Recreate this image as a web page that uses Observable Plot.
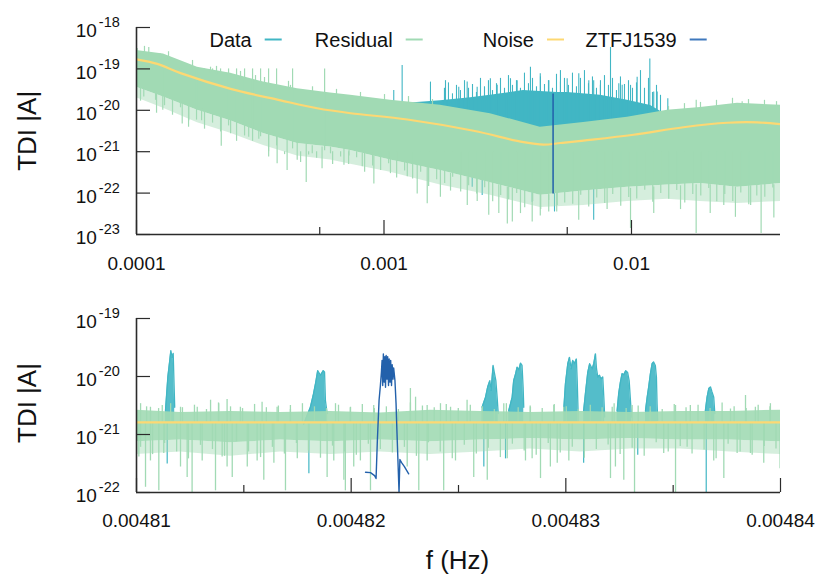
<!DOCTYPE html>
<html><head><meta charset="utf-8">
<script src="https://cdn.jsdelivr.net/npm/d3@7"></script>
<script src="https://cdn.jsdelivr.net/npm/@observablehq/plot@0.6"></script>
<style>
html,body{margin:0;padding:0;background:#fff;}
#wrap{position:relative;width:830px;height:581px;font-family:"Liberation Sans",Arial,Helvetica,sans-serif;}
#wrap > svg{display:block;}
#overlay{position:absolute;left:0;top:0;pointer-events:none;}
</style></head><body><div id="wrap"></div>
<script>
// ---------------- DATA ----------------
// Top panel: noise curve
const noiseTopF = [1.0e-4, 1.213e-4, 1.507e-4, 2.40e-4, 3.82e-4, 5.37e-4, 7.33e-4, 1.242e-3, 2.30e-3, 3.66e-3, 4.41e-3, 5.16e-3, 6.40e-3, 1.019e-2, 1.62e-2, 2.44e-2, 3.23e-2, 4.0e-2];
const noiseTopA = [1.7e-19, 1.32e-19, 7.9e-20, 3.3e-20, 1.74e-20, 1.12e-20, 8.5e-21, 6.0e-21, 3.2e-21, 1.7e-21, 1.48e-21, 1.62e-21, 1.86e-21, 2.57e-21, 3.9e-21, 5.0e-21, 5.1e-21, 4.6e-21];

// Top panel: residual band (upper edge, dense lower edge, sparse lower edge)
const resTopF      = [1.0e-4, 1.285e-4, 1.763e-4, 2.40e-4, 3.26e-4, 4.47e-4, 6.08e-4, 7.33e-4, 1.062e-3, 1.69e-3, 2.69e-3, 4.28e-3, 6.40e-3, 9.63e-3, 1.397e-2, 1.90e-2, 2.68e-2, 4.0e-2];
const resTopUpper  = [2.8e-19, 2.3e-19, 1.1e-19, 7.8e-20, 4.8e-20, 3.3e-20, 2.6e-20, 2.3e-20, 1.74e-20, 1.32e-20, 8.3e-21, 3.9e-21, 5.1e-21, 6.8e-21, 1.0e-20, 1.17e-20, 1.48e-20, 1.32e-20];
const resTopLower  = [3.6e-20, 2.1e-20, 1.0e-20, 5.6e-21, 2.75e-21, 1.58e-21, 1.29e-21, 1.07e-21, 6.3e-22, 3.5e-22, 1.78e-22, 8.9e-23, 1.12e-22, 1.38e-22, 1.58e-22, 1.7e-22, 1.38e-22, 1.7e-22];
const resTopSparse = [2.0e-20, 1.12e-20, 5.0e-21, 2.8e-21, 1.41e-21, 7.9e-22, 6.3e-22, 5.0e-22, 3.2e-22, 1.58e-22, 8.9e-23, 4.5e-23, 5.0e-23, 6.3e-23, 7.1e-23, 6.3e-23, 5.6e-23, 6.3e-23];

// Top panel: deep residual spikes (frequency, tip, root)
const resTopSpikeF  = [1.070e-4, 1.194e-4, 1.277e-4, 1.53e-4, 1.627e-4, 1.832e-4, 2.20e-4, 2.40e-4, 2.84e-4, 3.12e-4, 3.42e-4, 3.70e-4, 4.06e-4, 4.46e-4, 4.85e-4, 5.13e-4, 5.62e-4, 6.08e-4, 6.89e-4, 7.22e-4, 8.17e-4, 9.10e-4, 1.062e-3, 1.242e-3, 1.362e-3, 1.495e-3, 1.69e-3, 1.857e-3, 2.17e-3, 2.38e-3, 2.65e-3, 2.91e-3, 3.15e-3, 3.30e-3, 3.56e-3, 3.97e-3, 4.28e-3, 4.63e-3, 5.01e-3, 6.12e-3, 7.97e-3, 9.91e-3, 1.230e-2, 1.578e-2, 1.825e-2, 2.08e-2, 2.36e-2, 2.63e-2, 3.03e-2, 3.34e-2, 3.76e-2];
const resTopSpikeLo = [2.1e-20, 1.74e-20, 1.0e-20, 4.7e-21, 5.6e-21, 5.6e-21, 1.35e-21, 2.7e-21, 2.24e-21, 2.0e-21, 7.4e-22, 5.1e-22, 3.5e-22, 6.2e-22, 1.8e-22, 8.9e-22, 3.9e-22, 8.9e-22, 4.7e-22, 7.9e-22, 4.3e-22, 1.66e-22, 2.95e-22, 2.5e-22, 9.5e-23, 5.5e-23, 7.9e-23, 1.12e-22, 5.0e-23, 6.3e-23, 2.9e-23, 3.2e-23, 1.8e-23, 2.0e-23, 3.2e-23, 2.0e-23, 2.8e-23, 3.5e-23, 5.0e-23, 2.2e-23, 4.0e-23, 1.4e-23, 3.2e-23, 4.0e-23, 1.05e-23, 3.2e-23, 5.0e-23, 2.6e-23, 5.0e-23, 1.05e-23, 2.5e-23];
const resTopSpikeHi = [3.5e-20, 3.0e-20, 2.2e-20, 1.5e-20, 1.3e-20, 1.1e-20, 7.0e-21, 6.0e-21, 4.0e-21, 3.5e-21, 2.8e-21, 2.4e-21, 2.0e-21, 1.7e-21, 1.5e-21, 1.4e-21, 1.3e-21, 1.3e-21, 1.2e-21, 1.1e-21, 9.0e-22, 8.0e-22, 7.0e-22, 5.5e-22, 5.0e-22, 4.5e-22, 3.5e-22, 3.0e-22, 2.5e-22, 2.2e-22, 1.8e-22, 1.6e-22, 1.4e-22, 1.3e-22, 1.2e-22, 1.0e-22, 9.0e-23, 9.0e-23, 1.0e-22, 1.1e-22, 1.3e-22, 1.3e-22, 1.4e-22, 1.5e-22, 1.6e-22, 1.6e-22, 1.5e-22, 1.4e-22, 1.5e-22, 1.6e-22, 1.6e-22];

// Top panel: lower-edge hairs of the residual (frequency, tip)
const resTopHairF = [1.038e-4, 1.118e-4, 1.205e-4, 1.298e-4, 1.398e-4, 1.506e-4, 1.623e-4, 1.748e-4, 1.883e-4, 2.029e-4, 2.186e-4, 2.355e-4, 2.537e-4, 2.733e-4, 2.944e-4, 3.172e-4, 3.417e-4, 3.681e-4, 3.966e-4, 4.272e-4, 4.603e-4, 4.959e-4, 5.342e-4, 5.755e-4, 6.200e-4, 6.679e-4, 7.195e-4, 7.752e-4, 8.351e-4, 8.996e-4, 9.692e-4, 1.0441e-3, 1.1248e-3, 1.2118e-3, 1.3054e-3, 1.4063e-3, 1.5150e-3, 1.6322e-3, 1.7583e-3, 1.8942e-3, 2.0407e-3, 2.1984e-3, 2.3684e-3, 2.5515e-3, 2.7487e-3, 2.9612e-3, 3.1901e-3, 3.4367e-3, 3.7024e-3, 3.9886e-3, 4.2970e-3, 4.6291e-3, 4.9870e-3, 5.3725e-3, 5.7878e-3, 6.2352e-3, 6.7172e-3, 7.2365e-3, 7.7959e-3, 8.3985e-3, 9.0478e-3, 9.7472e-3, 1.0501e-2, 1.1312e-2, 1.2187e-2, 1.3129e-2, 1.4144e-2, 1.5237e-2, 1.6415e-2, 1.7684e-2, 1.9051e-2, 2.0524e-2, 2.2110e-2, 2.3819e-2, 2.5661e-2, 2.7644e-2, 2.9781e-2, 3.2083e-2, 3.4564e-2, 3.7235e-2];
const resTopHairA = [1.66e-20, 2.0e-20, 8.5e-21, 1.29e-20, 7.6e-21, 1.15e-20, 3.9e-21, 5.8e-21, 3.5e-21, 4.9e-21, 3.0e-21, 4.2e-21, 1.78e-21, 2.4e-21, 1.78e-21, 2.3e-21, 1.0e-21, 1.38e-21, 8.5e-22, 1.17e-21, 5.5e-22, 8.3e-22, 6.9e-22, 1.05e-21, 4.9e-22, 7.4e-22, 4.9e-22, 7.1e-22, 3.2e-22, 4.5e-22, 3.5e-22, 5.1e-22, 2.3e-22, 3.4e-22, 2.2e-22, 3.2e-22, 1.45e-22, 2.1e-22, 1.7e-22, 2.4e-22, 1.07e-22, 1.51e-22, 9.5e-23, 1.35e-22, 6.2e-23, 8.7e-23, 6.9e-23, 9.8e-23, 4.4e-23, 6.3e-23, 4.0e-23, 6.6e-23, 3.5e-23, 5.8e-23, 5.4e-23, 8.9e-23, 4.6e-23, 7.6e-23, 5.6e-23, 9.3e-23, 4.8e-23, 7.8e-23, 7.2e-23, 1.17e-22, 6.0e-23, 9.8e-23, 7.1e-23, 1.15e-22, 5.8e-23, 9.3e-23, 8.5e-23, 1.29e-22, 6.2e-23, 9.3e-23, 6.3e-23, 1.0e-22, 5.2e-23, 8.5e-23, 7.9e-23, 1.32e-22];

// Top panel: residual upward hairs (frequency, root, tip)
const resTopUpF  = [1.006e-4, 1.077e-4, 1.121e-4, 1.250e-4, 1.347e-4, 1.684e-4, 1.991e-4, 2.105e-4, 2.632e-4, 3.026e-4, 3.290e-4, 4.113e-4, 4.19e-4, 5.142e-4, 6.428e-4, 8.036e-4, 1.0047e-3, 1.256e-3, 1.570e-3, 1.411e-2, 1.637e-2, 1.826e-2, 1.900e-2, 2.205e-2, 2.559e-2, 2.80e-2, 2.970e-2, 3.446e-2, 3.854e-2];
const resTopUpLo = [2.0e-19, 2.0e-19, 2.0e-19, 1.6e-19, 1.6e-19, 1.0e-19, 8.0e-20, 7.0e-20, 5.5e-20, 4.5e-20, 4.0e-20, 2.8e-20, 3.2e-20, 2.6e-20, 2.3e-20, 2.0e-20, 1.7e-20, 1.5e-20, 1.3e-20, 8.0e-21, 9.0e-21, 1.0e-20, 1.0e-20, 1.1e-20, 1.3e-20, 1.0e-20, 1.3e-20, 1.2e-20, 1.2e-20];
const resTopUpHi = [3.1e-19, 3.5e-19, 3.3e-19, 2.3e-19, 2.6e-19, 1.6e-19, 1.1e-19, 1.15e-19, 8.7e-20, 6.9e-20, 6.2e-20, 5.0e-20, 4.0e-20, 3.7e-20, 3.2e-20, 2.7e-20, 2.4e-20, 2.15e-20, 1.82e-20, 1.23e-20, 1.45e-20, 1.74e-20, 1.55e-20, 1.74e-20, 1.95e-20, 1.62e-20, 1.82e-20, 1.74e-20, 1.62e-20];

// Top panel: data excess band and data spikes
const dataTopF = [9.68e-4, 1.279e-3, 1.69e-3, 2.24e-3, 2.69e-3, 3.66e-3, 5.01e-3, 5.51e-3, 7.49e-3, 9.63e-3, 1.194e-2, 1.334e-2];
const dataTopA = [1.2e-20, 1.5e-20, 1.7e-20, 2.0e-20, 2.3e-20, 3.0e-20, 2.7e-20, 2.7e-20, 2.3e-20, 1.74e-20, 1.3e-20, 8.9e-21];
const dataSpikeF = [1.095e-3, 1.184e-3, 1.541e-3, 1.772e-3, 2.005e-3, 2.168e-3, 2.379e-3, 2.69e-3, 2.866e-3, 3.244e-3, 3.452e-3, 3.906e-3, 4.28e-3, 4.636e-3, 5.164e-3, 5.497e-3, 6.124e-3, 6.722e-3, 7.035e-3, 7.49e-3, 8.226e-3, 8.886e-3, 9.171e-3, 9.91e-3, 1.054e-2, 1.186e-2, 1.230e-2, 1.270e-2, 1.402e-2,
  1.755e-3, 1.822e-3, 1.891e-3, 1.963e-3, 2.037e-3, 2.115e-3, 2.195e-3, 2.278e-3, 2.364e-3, 2.454e-3, 2.547e-3, 2.643e-3, 2.744e-3, 2.848e-3, 2.956e-3, 3.068e-3, 3.184e-3, 3.305e-3, 3.430e-3, 3.560e-3, 3.695e-3, 3.835e-3, 3.981e-3, 4.132e-3, 4.288e-3, 4.451e-3, 4.619e-3, 4.795e-3, 4.977e-3, 5.164e-3, 5.361e-3, 5.564e-3, 5.775e-3, 5.994e-3, 6.221e-3, 6.457e-3, 6.702e-3, 6.956e-3, 7.220e-3, 7.493e-3, 7.778e-3, 8.072e-3, 8.379e-3, 8.696e-3, 9.026e-3, 9.369e-3, 9.725e-3, 1.0093e-2, 1.0476e-2, 1.0873e-2, 1.1285e-2, 1.1714e-2, 1.2158e-2, 1.2619e-2, 1.3098e-2];
const dataSpikeA = [3.0e-20, 1.2e-19, 4.8e-20, 5.2e-20, 3.6e-20, 4.8e-20, 3.6e-20, 5.8e-20, 4.0e-20, 5.8e-20, 5.2e-20, 1.1e-19, 7.6e-20, 5.2e-20, 9.1e-20, 5.8e-20, 7.6e-20, 5.2e-20, 5.2e-20, 4.0e-20, 3.3e-19, 4.4e-20, 4.0e-20, 4.0e-20, 6.3e-20, 1.74e-19, 2.75e-20, 2.75e-20, 1.9e-20,
  3.4e-20, 4.6e-20, 2.5e-20, 4.0e-20, 3.0e-20, 5.2e-20, 3.4e-20, 4.2e-20, 2.7e-20, 5.9e-20, 3.7e-20, 5.2e-20, 3.0e-20, 4.4e-20, 5.9e-20, 3.4e-20, 6.9e-20, 4.0e-20, 5.2e-20, 3.4e-20, 7.9e-20, 4.4e-20, 5.9e-20, 3.7e-20, 6.4e-20, 4.2e-20, 5.2e-20, 3.4e-20, 7.4e-20, 4.8e-20, 5.9e-20, 4.0e-20, 7.9e-20, 3.7e-20, 5.9e-20, 9.1e-20, 4.4e-20, 6.4e-20, 3.4e-20, 5.2e-20, 6.9e-20, 4.0e-20, 5.9e-20, 3.0e-20, 6.4e-20, 4.2e-20, 5.2e-20, 3.4e-20, 4.6e-20, 9.1e-20, 3.4e-20, 5.9e-20, 2.7e-20, 4.0e-20, 2.3e-20];
const dataDownF = [2.272e-3, 2.493e-3, 3.97e-3, 4.886e-3, 7.035e-3];
const dataDownA = [1.38e-22, 8.7e-23, 6.0e-23, 3.5e-23, 2.2e-23];

// ZTFJ1539 signal (shared by both panels)
const ztfF = [0.00482067, 0.0048209, 0.00482109, 0.00482116, 0.00482122, 0.0048213, 0.00482136, 0.00482141, 0.00482144, 0.00482147, 0.0048215, 0.00482154, 0.00482157, 0.0048216, 0.00482163, 0.00482167, 0.0048217, 0.00482174, 0.00482177, 0.00482181, 0.00482184, 0.00482188, 0.00482191, 0.00482195, 0.00482198, 0.00482204, 0.00482209, 0.00482213, 0.00482218, 0.00482223, 0.00482227, 0.00482234, 0.00482248, 0.00482268];
const ztfA = [2.24e-22, 2.2e-22, 1.95e-22, 1.74e-22, 7.9e-22, 3.9e-21, 6.9e-21, 1.2e-20, 1.9e-20, 7.0e-21, 2.46e-20, 8.0e-21, 2.2e-20, 6.5e-21, 2.3e-20, 9.0e-21, 2.2e-20, 7.0e-21, 2.0e-20, 8.0e-21, 1.9e-20, 7.0e-21, 1.6e-20, 9.0e-21, 1.4e-20, 8.5e-21, 3.5e-21, 1.2e-21, 3.5e-22, 1.0e-22, 3.7e-22, 3.3e-22, 2.8e-22, 2.1e-22];

// Bottom panel: noise level
const noiseBotF = [0.00481, 0.00484];
const noiseBotA = [1.62e-21, 1.62e-21];

// Bottom panel: residual band
const resBotF      = [0.00481, 0.00481205, 0.00481438, 0.00481671, 0.00481904, 0.00482136, 0.00482369, 0.00482602, 0.00482835, 0.00483068, 0.00483301, 0.00483534, 0.00483767, 0.00484];
const resBotUpper  = [2.63e-21, 2.4e-21, 2.5e-21, 2.4e-21, 2.5e-21, 2.34e-21, 2.63e-21, 2.5e-21, 2.4e-21, 2.5e-21, 2.4e-21, 2.5e-21, 2.5e-21, 2.63e-21];
const resBotLower  = [7.5e-22, 8.0e-22, 7.2e-22, 8.0e-22, 7.5e-22, 8.0e-22, 7.5e-22, 8.0e-22, 8.5e-22, 8.0e-22, 8.5e-22, 8.0e-22, 8.0e-22, 7.5e-22];
const resBotSparse = [4.5e-22, 5.0e-22, 4.2e-22, 5.0e-22, 4.5e-22, 5.0e-22, 4.5e-22, 5.0e-22, 5.6e-22, 5.0e-22, 5.6e-22, 5.6e-22, 5.0e-22, 4.5e-22];
// Bottom panel: deep residual spikes (tips), downward and upward
const resBotDownF = [0.00481011, 0.00481042, 0.00481065, 0.00481104, 0.00481127, 0.00481205, 0.00481236, 0.00481259, 0.00481306, 0.00481368, 0.00481399, 0.00481422, 0.00481446, 0.00481516, 0.00481562, 0.00481593, 0.0048164, 0.00481694, 0.00481749, 0.00481888, 0.00481919, 0.00481966, 0.00481973, 0.00482012, 0.00482043, 0.0048209, 0.00482261, 0.00482315, 0.00482354, 0.00482431, 0.00482486, 0.00482571, 0.00482634, 0.00482727, 0.00482812, 0.00482843, 0.00482882, 0.00482928, 0.0048296, 0.00483014, 0.00483208, 0.00483231, 0.0048327, 0.0048332, 0.00483456, 0.00483511, 0.00483565, 0.00483689, 0.00483736, 0.00483798, 0.0048386, 0.00483922, 0.00483998];
const resBotDownA = [4.1e-22, 1.23e-22, 3.5e-22, 1.07e-22, 4.7e-22, 2.75e-22, 1.82e-22, 1.0e-22, 3.5e-22, 1.07e-22, 4.1e-22, 2.75e-22, 1.82e-22, 2.75e-22, 3.5e-22, 1.62e-22, 3.2e-22, 1.07e-22, 3.8e-22, 1.82e-22, 3.5e-22, 1.62e-22, 1.07e-22, 2.75e-22, 3.5e-22, 1.07e-22, 2.75e-22, 1.07e-22, 3.5e-22, 1.07e-22, 3.5e-22, 1.82e-22, 1.62e-22, 3.8e-22, 3.5e-22, 3.8e-22, 1.74e-22, 2.75e-22, 3.2e-22, 3.5e-22, 1.74e-22, 2.75e-22, 1.62e-22, 1.0e-22, 4.7e-22, 1.0e-22, 6.0e-22, 3.5e-22, 1.74e-22, 4.7e-22, 4.7e-22, 3.2e-22, 2.57e-22];
const resBotUpF = [0.00481019, 0.00481065, 0.0048112, 0.00481205, 0.00481283, 0.00481345, 0.00481383, 0.00481422, 0.00481484, 0.00481585, 0.00481655, 0.00481717, 0.00481927, 0.00481997, 0.00482105, 0.00482276, 0.004823, 0.00482354, 0.00482416, 0.00482463, 0.0048254, 0.00482711, 0.00482835, 0.00482944, 0.0048299, 0.00483216, 0.00483309, 0.00483394, 0.00483511, 0.0048358, 0.00483767, 0.00483837, 0.00483883, 0.00483953];
const resBotUpA = [3.4e-21, 2.95e-21, 3.16e-21, 2.95e-21, 2.95e-21, 3.9e-21, 3.4e-21, 4.0e-21, 2.95e-21, 3.6e-21, 2.95e-21, 3.16e-21, 3.4e-21, 2.95e-21, 3.16e-21, 6.2e-21, 4.4e-21, 3.16e-21, 3.4e-21, 2.95e-21, 3.9e-21, 3.4e-21, 2.95e-21, 3.16e-21, 2.95e-21, 2.95e-21, 3.16e-21, 2.57e-21, 3.16e-21, 3.16e-21, 2.75e-21, 4.7e-21, 2.95e-21, 3.4e-21];
// Bottom panel: fine residual hairs (tips)
const resBotHairDownF = [0.00481019, 0.00481075, 0.00481131, 0.00481187, 0.00481242, 0.00481298, 0.00481354, 0.0048141, 0.00481466, 0.00481522, 0.00481578, 0.00481633, 0.00481689, 0.00481745, 0.00481801, 0.00481857, 0.00481913, 0.00481969, 0.00482024, 0.0048208, 0.00482136, 0.00482192, 0.00482248, 0.00482304, 0.0048236, 0.00482415, 0.00482471, 0.00482527, 0.00482583, 0.00482639, 0.00482695, 0.00482751, 0.00482806, 0.00482862, 0.00482918, 0.00482974, 0.0048303, 0.00483086, 0.00483142, 0.00483197, 0.00483253, 0.00483309, 0.00483365, 0.00483421, 0.00483477, 0.00483533, 0.00483588, 0.00483644, 0.004837, 0.00483756, 0.00483812, 0.00483868, 0.00483924, 0.00483979];
const resBotHairDownA = [6.0e-22, 4.5e-22, 7.0e-22, 5.0e-22, 3.8e-22, 6.5e-22, 5.5e-22, 4.2e-22, 7.5e-22, 5.0e-22, 4.0e-22, 6.0e-22, 4.6e-22, 7.0e-22, 5.2e-22, 3.9e-22, 6.3e-22, 5.0e-22, 4.4e-22, 6.8e-22, 5.5e-22, 4.8e-22, 6.0e-22, 4.2e-22, 7.2e-22, 5.0e-22, 3.8e-22, 6.5e-22, 4.6e-22, 5.8e-22, 4.0e-22, 6.8e-22, 5.2e-22, 4.4e-22, 7.0e-22, 4.8e-22, 6.0e-22, 3.9e-22, 5.5e-22, 6.6e-22, 4.5e-22, 5.8e-22, 4.2e-22, 7.2e-22, 5.0e-22, 6.2e-22, 4.6e-22, 5.4e-22, 3.8e-22, 6.8e-22, 5.0e-22, 4.4e-22, 6.2e-22, 5.6e-22];
const resBotHairUpF = [0.00481047, 0.00481103, 0.00481159, 0.00481214, 0.0048127, 0.00481326, 0.00481382, 0.00481438, 0.00481494, 0.0048155, 0.00481605, 0.00481661, 0.00481717, 0.00481773, 0.00481829, 0.00481885, 0.00481941, 0.00481996, 0.00482052, 0.00482108, 0.00482164, 0.0048222, 0.00482276, 0.00482332, 0.00482387, 0.00482443, 0.00482499, 0.00482555, 0.00482611, 0.00482667, 0.00482723, 0.00482778, 0.00482834, 0.0048289, 0.00482946, 0.00483002, 0.00483058, 0.00483114, 0.00483169, 0.00483225, 0.00483281, 0.00483337, 0.00483393, 0.00483449, 0.00483505, 0.0048356, 0.00483616, 0.00483672, 0.00483728, 0.00483784, 0.0048384, 0.00483896, 0.00483951];
const resBotHairUpA = [3.0e-21, 2.8e-21, 3.4e-21, 2.9e-21, 3.2e-21, 2.7e-21, 3.5e-21, 3.0e-21, 2.8e-21, 3.3e-21, 2.9e-21, 3.1e-21, 2.7e-21, 3.4e-21, 3.0e-21, 2.8e-21, 3.2e-21, 2.9e-21, 3.3e-21, 2.8e-21, 3.0e-21, 2.7e-21, 3.5e-21, 3.1e-21, 2.9e-21, 3.3e-21, 2.8e-21, 3.2e-21, 3.0e-21, 2.7e-21, 3.4e-21, 2.9e-21, 3.1e-21, 2.8e-21, 3.3e-21, 3.0e-21, 2.7e-21, 3.2e-21, 2.9e-21, 3.4e-21, 2.8e-21, 3.1e-21, 3.0e-21, 2.7e-21, 3.3e-21, 2.9e-21, 3.2e-21, 2.8e-21, 3.5e-21, 3.0e-21, 2.8e-21, 3.2e-21, 3.0e-21];

// Bottom panel: data peaks (each peak is one group)
const peakId = [1,1,1,1,1,1,1,1, 2,2,2,2,2,2,2,2,2,2, 4,4,4,4,4,4,4,4,4,4, 5,5,5,5,5,5,5,5,5,5, 6,6,6,6,6,6,6,6,6,6, 7,7,7,7,7,7,7,7,7,7,7,7,7,7, 8,8,8,8,8,8,8,8,8,8, 9,9,9,9,9,9,9,9,9,9, 10,10,10,10,10,10,10];
const peakF = [0.00481135, 0.00481146, 0.00481155, 0.0048116, 0.00481166, 0.00481171, 0.00481174, 0.00481178,
  0.00481779, 0.0048181, 0.00481823, 0.00481835, 0.00481844, 0.00481857, 0.0048187, 0.00481876, 0.0048188, 0.00481888,
  0.0048261, 0.00482626, 0.00482636, 0.00482646, 0.00482652, 0.00482661, 0.00482667, 0.00482674, 0.0048268, 0.00482685,
  0.00482734, 0.0048275, 0.00482757, 0.00482765, 0.00482773, 0.00482781, 0.00482789, 0.00482796, 0.00482801, 0.00482804,
  0.0048299, 0.00482998, 0.00483009, 0.00483017, 0.00483025, 0.00483032, 0.0048304, 0.00483049, 0.00483053, 0.00483057,
  0.00483083, 0.00483091, 0.00483102, 0.00483111, 0.00483123, 0.0048313, 0.00483138, 0.00483143, 0.00483149, 0.00483157, 0.00483164, 0.00483172, 0.00483177, 0.00483181,
  0.00483239, 0.00483246, 0.00483254, 0.00483262, 0.0048327, 0.00483279, 0.00483288, 0.00483295, 0.00483301, 0.00483306,
  0.00483371, 0.00483379, 0.00483386, 0.00483394, 0.00483402, 0.00483409, 0.00483417, 0.00483422, 0.00483425, 0.00483428,
  0.0048365, 0.00483658, 0.00483666, 0.00483674, 0.00483681, 0.00483689, 0.00483694];
const peakA = [2.57e-21, 9.8e-21, 1.9e-20, 2.8e-20, 2.14e-20, 2.5e-20, 9.8e-21, 2.95e-21,
  1.51e-21, 2.95e-21, 4.7e-21, 7.9e-21, 1.26e-20, 1.05e-20, 1.26e-20, 1.2e-20, 3.9e-21, 2.3e-21,
  2.95e-21, 4.4e-21, 6.6e-21, 8.5e-21, 5.75e-21, 1.55e-20, 1.17e-20, 8.5e-21, 4.4e-21, 2.3e-21,
  2.57e-21, 4.4e-21, 8.5e-21, 1.07e-20, 1.45e-20, 1.3e-20, 1.7e-20, 1.55e-20, 6.6e-21, 2.95e-21,
  2.57e-21, 7.4e-21, 1.66e-20, 2.14e-20, 1.35e-20, 1.9e-20, 1.66e-20, 2.0e-20, 8.5e-21, 2.57e-21,
  2.57e-21, 5.0e-21, 1.17e-20, 1.66e-20, 1.35e-20, 1.66e-20, 2.46e-20, 1.35e-20, 9.8e-21, 1.05e-20, 9.1e-21, 9.8e-21, 4.4e-21, 2.0e-21,
  2.57e-21, 5.0e-21, 7.9e-21, 1.12e-20, 1.07e-20, 1.26e-20, 1.17e-20, 8.5e-21, 3.9e-21, 2.0e-21,
  2.57e-21, 4.4e-21, 6.6e-21, 1.12e-20, 1.66e-20, 1.78e-20, 1.55e-20, 9.8e-21, 3.4e-21, 1.74e-21,
  2.57e-21, 4.4e-21, 6.2e-21, 6.6e-21, 5.4e-21, 4.4e-21, 2.3e-21];
const dataBotDownF = [0.00481143, 0.00481803, 0.00482618, 0.00482719, 0.00483083, 0.00483335, 0.00483654];
const dataBotDownA = [3.1e-22, 2.1e-22, 2.75e-22, 3.8e-22, 3.2e-22, 4.4e-22, 1.0e-22];

// Axis ticks and labels
const topXTicks = [1e-4, 1e-3, 1e-2];
const topXMinor = [5.5e-4, 5.5e-3];
const topYTicks = [1e-18, 1e-19, 1e-20, 1e-21, 1e-22, 1e-23];
const botXTicks = [0.00481, 0.00482, 0.00483, 0.00484];
const botXMinor = [0.004815, 0.004825, 0.004835];
const botYTicks = [1e-19, 1e-20, 1e-21, 1e-22];
const legendLabels = ["Data", "Residual", "Noise", "ZTFJ1539"];
const yTitle = "TDI |A|";
const xTitle = "f (Hz)";

// ---------------- STYLE ----------------
const FONT = '"Liberation Sans", Arial, Helvetica, sans-serif';
const C_DATA = "#41b6c4", C_RES = "#a1dab4", C_NOISE = "#fdd873", C_ZTF = "#2361ab", C_AXIS = "#2b2b2b";
const legendColors = [C_DATA, C_RES, C_NOISE, "#3f78bd"];

// ---------------- TABLES ----------------
const zip = (keys, ...arrs) => arrs[0].map((_, i) => Object.fromEntries(keys.map((k, j) => [k, arrs[j][i]])));
const noiseTop = zip(["f","a"], noiseTopF, noiseTopA);
const resTop = zip(["f","up","lo","sp"], resTopF, resTopUpper, resTopLower, resTopSparse);
const resTopSpk = zip(["f","lo","hi"], resTopSpikeF, resTopSpikeLo, resTopSpikeHi);
const resTopHair = zip(["f","a"], resTopHairF, resTopHairA);
const resTopUp = zip(["f","lo","hi"], resTopUpF, resTopUpLo, resTopUpHi);
const dataTop = zip(["f","a"], dataTopF, dataTopA);
const dataSpk = zip(["f","a"], dataSpikeF, dataSpikeA);
const dataDown = zip(["f","a"], dataDownF, dataDownA);
const ztf = zip(["f","a"], ztfF, ztfA);
const noiseBot = zip(["f","a"], noiseBotF, noiseBotA);
const resBot = zip(["f","up","lo","sp"], resBotF, resBotUpper, resBotLower, resBotSparse);
const resBotDown = zip(["f","a"], resBotDownF.concat(resBotHairDownF), resBotDownA.concat(resBotHairDownA));
const resBotUp = zip(["f","a"], resBotUpF.concat(resBotHairUpF), resBotUpA.concat(resBotHairUpA));
const peaks = zip(["id","f","a"], peakId, peakF, peakA);
const dataBotDown = zip(["f","a"], dataBotDownF, dataBotDownA);
const level = noiseBotA[0];

const expFmt = d => "10^" + Math.round(Math.log10(d));

function axes(xT, xMinor, yT, xFmt, pad) {
  return [
    Plot.axisX(xT, {anchor: "bottom", tickSize: -14, fill: "none", stroke: C_AXIS, strokeWidth: 1.2, label: null}),
    Plot.axisX(xMinor, {anchor: "bottom", tickSize: -7, fill: "none", stroke: C_AXIS, strokeWidth: 1.2, label: null}),
    Plot.axisX(xT, {anchor: "bottom", tickSize: 0, tickPadding: pad, tickFormat: xFmt, fill: "#111", fontSize: 19, label: null}),
    Plot.axisY(yT, {anchor: "left", tickSize: -14, fill: "none", stroke: C_AXIS, strokeWidth: 1.2, label: null}),
    Plot.axisY(yT, {anchor: "left", tickSize: 0, tickPadding: 16.7, tickFormat: expFmt, fill: "#111", fontSize: 19, dy: 3.6, label: null})
  ];
}

const topPlot = Plot.plot({
  width: 830, height: 290, marginLeft: 136, marginRight: 50, marginTop: 27, marginBottom: 56,
  style: {fontFamily: FONT, fontSize: "19px", background: "transparent", overflow: "visible"},
  x: {type: "log", domain: [1e-4, 0.04], axis: null},
  y: {type: "log", domain: [1e-23, 1e-18], axis: null},
  marks: [
    Plot.areaY(dataTop, {x: "f", y1: 1e-21, y2: "a", fill: C_DATA, clip: true}),
    Plot.ruleX(dataSpk, {x: "f", y1: 5e-21, y2: "a", stroke: C_DATA, strokeWidth: 1.1, clip: true}),
    Plot.ruleX(dataDown, {x: "f", y1: "a", y2: 1e-21, stroke: C_DATA, strokeWidth: 1.1, clip: true}),
    Plot.areaY(resTop, {x: "f", y1: "sp", y2: "lo", fill: C_RES, fillOpacity: 0.45, clip: true}),
    Plot.areaY(resTop, {x: "f", y1: "lo", y2: "up", fill: C_RES, clip: true}),
    Plot.ruleX(resTopHair, {x: "f", y1: "a", y2: 1e-21, stroke: C_RES, strokeWidth: 1.2, clip: true, filter: d => d.a < 1e-21}),
    Plot.ruleX(resTopHair, {x: "f", y1: "a", y2: 1e-19, stroke: C_RES, strokeWidth: 1.2, clip: true, filter: d => d.a >= 1e-21 && d.a < 2e-20}),
    Plot.ruleX(resTopSpk, {x: "f", y1: "lo", y2: "hi", stroke: C_RES, strokeWidth: 1.2, clip: true}),
    Plot.ruleX(resTopUp, {x: "f", y1: "lo", y2: "hi", stroke: C_RES, strokeWidth: 1.2, clip: true}),
    Plot.line(noiseTop, {x: "f", y: "a", stroke: C_NOISE, strokeWidth: 2.2, curve: "catmull-rom", clip: true}),
    Plot.line(ztf, {x: "f", y: "a", stroke: C_ZTF, strokeWidth: 1.5, clip: true}),
    Plot.ruleY([1e-23], {stroke: C_AXIS, strokeWidth: 1.6}),
    Plot.ruleX([1e-4], {stroke: C_AXIS, strokeWidth: 1.6}),
    ...axes(topXTicks, topXMinor, topYTicks, d => String(d), 22)
  ]
});

const botPlot = Plot.plot({
  width: 830, height: 291, marginLeft: 136, marginRight: 50, marginTop: 28, marginBottom: 89,
  style: {fontFamily: FONT, fontSize: "19px", background: "transparent", overflow: "visible"},
  x: {type: "linear", domain: [0.00481, 0.00484], axis: null},
  y: {type: "log", domain: [1e-22, 1e-19], axis: null},
  marks: [
    Plot.areaY(peaks, {x: "f", y1: level, y2: "a", z: "id", fill: C_DATA, fillOpacity: 0.9, clip: true}),
    Plot.line(peaks, {x: "f", y: "a", z: "id", stroke: C_DATA, strokeWidth: 1.3, clip: true}),
    Plot.ruleX(dataBotDown, {x: "f", y1: "a", y2: level, stroke: C_DATA, strokeWidth: 1.2, clip: true}),
    Plot.areaY(resBot, {x: "f", y1: "sp", y2: "lo", fill: C_RES, fillOpacity: 0.45, clip: true}),
    Plot.areaY(resBot, {x: "f", y1: "lo", y2: "up", fill: C_RES, fillOpacity: 0.9, clip: true}),
    Plot.ruleX(resBotDown, {x: "f", y1: "a", y2: level, stroke: C_RES, strokeWidth: 1.3, clip: true}),
    Plot.ruleX(resBotUp, {x: "f", y1: level, y2: "a", stroke: C_RES, strokeWidth: 1.3, clip: true}),
    Plot.line(noiseBot, {x: "f", y: "a", stroke: C_NOISE, strokeWidth: 2.2, clip: true}),
    Plot.line(ztf, {x: "f", y: "a", stroke: C_ZTF, strokeWidth: 1.4, clip: true}),
    Plot.ruleY([1e-22], {stroke: C_AXIS, strokeWidth: 1.6}),
    Plot.ruleX([0.00481], {stroke: C_AXIS, strokeWidth: 1.6}),
    ...axes(botXTicks, botXMinor, botYTicks, d => String(d), 21)
  ]
});

// superscript exponents on y tick labels
const NS = "http://www.w3.org/2000/svg";
for (const svg of [topPlot, botPlot]) {
  svg.querySelectorAll('[aria-label="y-axis tick label"] text').forEach(t => {
    const s = t.textContent;
    if (!s.includes("^")) return;
    const [base, ex] = s.split("^");
    t.textContent = "";
    const a = document.createElementNS(NS, "tspan"); a.textContent = base;
    const b = document.createElementNS(NS, "tspan"); b.textContent = ex;
    b.setAttribute("dy", "-10"); b.setAttribute("dx", "2"); b.setAttribute("font-size", "14.5");
    t.append(a, b);
  });
}

const wrap = document.getElementById("wrap");
wrap.append(topPlot, botPlot);

// overlay: legend and axis titles
const ov = d3.create("svg").attr("id", "overlay").attr("width", 830).attr("height", 581)
  .attr("font-family", FONT);
const legendRight = [251.7, 392.7, 534, 676.7];
legendLabels.forEach((lab, i) => {
  const r = legendRight[i];
  ov.append("text").attr("x", r).attr("y", 46.5).attr("text-anchor", "end").attr("font-size", 20).attr("fill", "#111").text(lab);
  ov.append("line").attr("x1", r + 13).attr("x2", r + 30).attr("y1", 39.5).attr("y2", 39.5)
    .attr("stroke", legendColors[i]).attr("stroke-width", 2);
});
for (const cy of [130.8, 403]) {
  ov.append("text").attr("transform", `translate(35.5,${cy}) rotate(-90)`).attr("text-anchor", "middle")
    .attr("font-size", 26).attr("fill", "#111").text(yTitle);
}
ov.append("text").attr("x", 457.5).attr("y", 569).attr("text-anchor", "middle").attr("font-size", 26).attr("fill", "#111").text(xTitle);
wrap.append(ov.node());
</script></body></html>
